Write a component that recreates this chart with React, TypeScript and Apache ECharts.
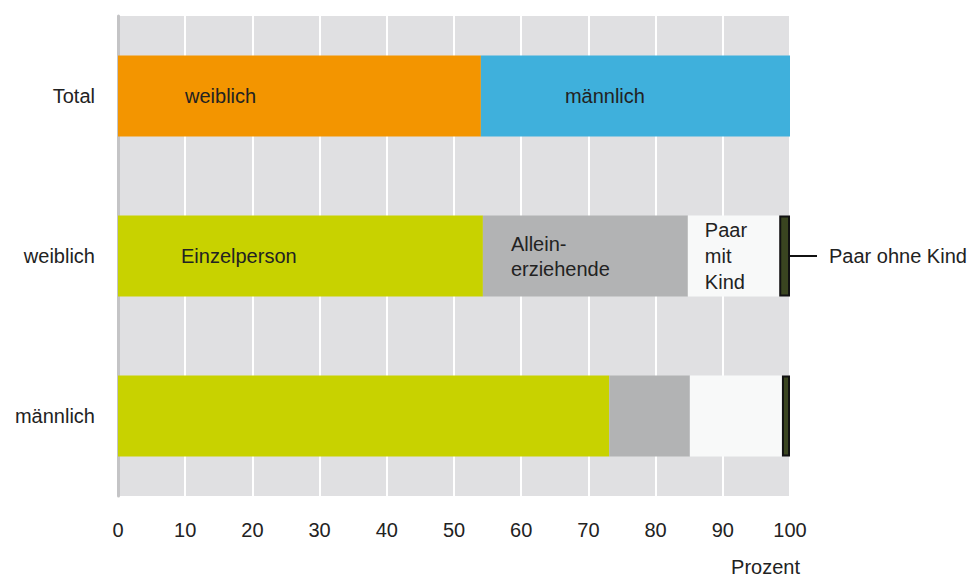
import React, { useEffect, useRef } from "react";
import * as echarts from "echarts";

const categories = ["Total", "weiblich", "männlich"];
const totalWeiblich = [54.0, null, null];
const totalMaennlich = [46.0, null, null];
const einzelperson = [null, 54.3, 73.1];
const alleinerziehende = [null, 30.5, 12.0];
const paarMitKind = [null, 13.6, 13.7];
const paarOhneKind = [null, 1.6, 1.2];
const xTicks = [0, 10, 20, 30, 40, 50, 60, 70, 80, 90, 100];

const FONT = "'Liberation Sans', Arial, Helvetica, sans-serif";
const TXT = "#222";
const FS = 20;

function withLabels(values: (number | null)[], labels: Record<number, any>) {
  return values.map((v, i) =>
    v === null ? "-" : labels[i] ? { value: v, label: labels[i] } : { value: v }
  );
}

function inLabel(text: string, dx: number, lh = 20) {
  return {
    show: true,
    position: [dx, "50%"],
    align: "left",
    verticalAlign: "middle",
    formatter: text,
    color: TXT,
    fontSize: FS,
    fontFamily: FONT,
    lineHeight: lh,
  };
}

export default function App() {
  const ref = useRef<HTMLDivElement>(null);
  useEffect(() => {
    if (!ref.current) return;
    const chart = echarts.init(ref.current, null, { renderer: "svg" });
    const base = { type: "bar", stack: "a", barWidth: 81, label: { show: false } };
    chart.setOption({
      animation: false,
      grid: {
        left: 118,
        right: 182,
        top: 16,
        bottom: 81,
        show: true,
        backgroundColor: "#e0e0e2",
        borderWidth: 0,
      },
      xAxis: {
        type: "value",
        min: 0,
        max: 100,
        interval: 10,
        name: "Prozent",
        nameLocation: "end",
        nameGap: 10,
        nameTextStyle: {
          color: TXT,
          fontSize: FS,
          fontFamily: FONT,
          align: "right",
          verticalAlign: "top",
          padding: [61, 0, 0, 0],
        },
        axisLine: { show: false },
        axisTick: { show: false },
        axisLabel: {
          color: TXT,
          fontSize: FS,
          fontFamily: FONT,
          margin: 24,
          formatter: (v: number) => (xTicks.includes(v) ? String(v) : ""),
        },
        splitLine: { show: true, lineStyle: { color: "#ffffff", width: 2 } },
      },
      yAxis: {
        type: "category",
        data: categories,
        inverse: true,
        axisLine: { show: true, lineStyle: { color: "#c4c4c6", width: 3 } },
        axisTick: { show: false },
        axisLabel: { color: TXT, fontSize: FS, fontFamily: FONT, margin: 23 },
        splitLine: { show: false },
      },
      series: [
        {
          ...base,
          name: "weiblich",
          itemStyle: { color: "#f39500" },
          data: withLabels(totalWeiblich, { 0: inLabel("weiblich", 67) }),
        },
        {
          ...base,
          name: "männlich",
          itemStyle: { color: "#3fb0dc" },
          data: withLabels(totalMaennlich, { 0: inLabel("männlich", 84) }),
        },
        {
          ...base,
          name: "Einzelperson",
          itemStyle: { color: "#c8d200" },
          data: withLabels(einzelperson, { 1: inLabel("Einzelperson", 63) }),
        },
        {
          ...base,
          name: "Alleinerziehende",
          itemStyle: { color: "#b2b3b4" },
          data: withLabels(alleinerziehende, { 1: inLabel("Allein-\nerziehende", 28, 25) }),
        },
        {
          ...base,
          name: "Paar mit Kind",
          itemStyle: { color: "#f8f9f9" },
          data: withLabels(paarMitKind, { 1: inLabel("Paar\nmit\nKind", 17, 26) }),
        },
        {
          ...base,
          name: "Paar ohne Kind",
          itemStyle: { color: "#3a4520", borderColor: "#111111", borderWidth: 2 },
          data: withLabels(paarOhneKind, {
            1: {
              show: true,
              position: "right",
              distance: 0,
              formatter: "{l|}{s|}{t|Paar ohne Kind}",
              rich: {
                l: { width: 27, height: 2, backgroundColor: "#111111" },
                s: { width: 12, height: 2 },
                t: { color: TXT, fontSize: FS, fontFamily: FONT },
              },
            },
          }),
        },
      ],
    });
    return () => chart.dispose();
  }, []);
  return (
    <div
      ref={ref}
      style={{ position: "absolute", left: 0, top: 0, width: 972, height: 577 }}
    />
  );
}
